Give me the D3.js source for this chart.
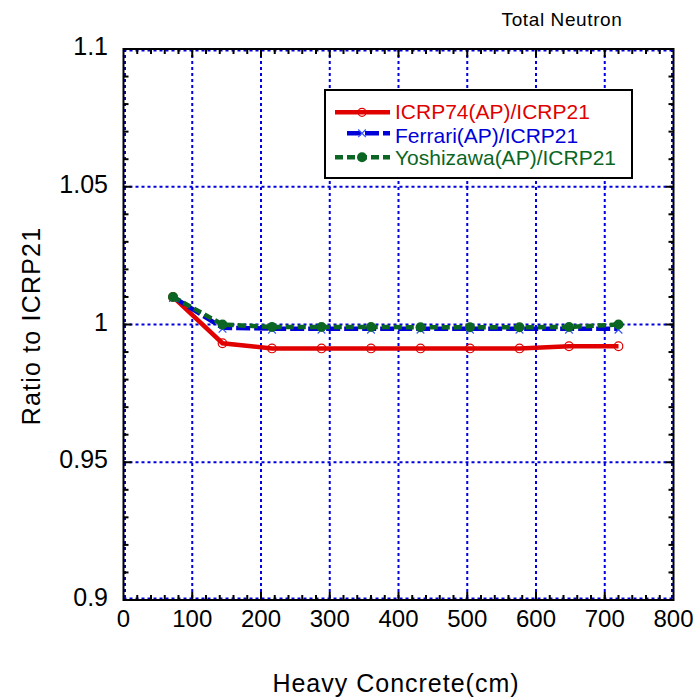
<!DOCTYPE html>
<html>
<head>
<meta charset="utf-8">
<script src="https://cdn.jsdelivr.net/npm/d3@7"></script>
<style>
  html, body { margin: 0; padding: 0; background: #fff; }
  svg { display: block; }
  text { font-family: Arial, "Liberation Sans", Helvetica, sans-serif; }
</style>
</head>
<body>
<svg id="chart" width="699" height="700"></svg>
<script>
// ---- data ----
const depth = [72, 144, 216, 288, 360, 432, 504, 576, 648, 720];
const icrp74 = [1.010, 0.9932, 0.9913, 0.9913, 0.9913, 0.9913, 0.9913, 0.9913, 0.9921, 0.9921];
const ferrari = [1.010, 0.9988, 0.9985, 0.9985, 0.9985, 0.9985, 0.9985, 0.9985, 0.9985, 0.9985];
const yoshizawa = [1.010, 1.000, 0.9991, 0.9991, 0.9991, 0.9990, 0.9990, 0.9990, 0.9991, 1.000];
const seriesNames = ["ICRP74(AP)/ICRP21", "Ferrari(AP)/ICRP21", "Yoshizawa(AP)/ICRP21"];
const xTicks = [0, 100, 200, 300, 400, 500, 600, 700, 800];
const yTicks = [0.9, 0.95, 1, 1.05, 1.1];
const yTickLabels = ["0.9", "0.95", "1", "1.05", "1.1"];

const RED = "#e00000", BLUE = "#0000d8", GREEN = "#0b6623", GRID = "#0000e0";

const svg = d3.select("#chart");
const L = 123.5, R = 673.5, T = 49, B = 600;
const x = d3.scaleLinear().domain([0, 800]).range([L, R]);
const y = d3.scaleLinear().domain([0.9, 1.1]).range([B, T]);

// grid (dotted blue) incl. along frame
const gridG = svg.append("g");
xTicks.forEach(t => {
  gridG.append("line").attr("x1", x(t) + (t === 0 ? 1.5 : t === 800 ? -1.5 : 0)).attr("x2", x(t) + (t === 0 ? 1.5 : t === 800 ? -1.5 : 0))
    .attr("y1", T).attr("y2", B)
    .attr("stroke", GRID).attr("stroke-width", 2).attr("stroke-dasharray", "3,3");
});
yTicks.forEach(t => {
  gridG.append("line").attr("y1", y(t) + (t === 1.1 ? 1.5 : t === 0.9 ? -1.5 : 0)).attr("y2", y(t) + (t === 1.1 ? 1.5 : t === 0.9 ? -1.5 : 0))
    .attr("x1", L).attr("x2", R)
    .attr("stroke", GRID).attr("stroke-width", 2).attr("stroke-dasharray", "3,3");
});

// frame
svg.append("rect").attr("x", L).attr("y", T).attr("width", R - L).attr("height", B - T)
  .attr("fill", "none").attr("stroke", "#000").attr("stroke-width", 2);

// ticks inward
const tickG = svg.append("g").attr("stroke", "#000").attr("stroke-width", 2);
d3.range(0, 801, 20).forEach(v => {
  const major = v % 100 === 0;
  const len = major ? 8 : 5;
  if (v === 0 || v === 800) return;
  tickG.append("line").attr("x1", x(v)).attr("x2", x(v)).attr("y1", B).attr("y2", B - len);
  tickG.append("line").attr("x1", x(v)).attr("x2", x(v)).attr("y1", T).attr("y2", T + len);
});
d3.range(0, 21).forEach(i => {
  const v = 0.9 + i * 0.01;
  const major = i % 5 === 0;
  const len = major ? 8 : 5;
  if (i === 0 || i === 20) return;
  tickG.append("line").attr("x1", L).attr("x2", L + len).attr("y1", y(v)).attr("y2", y(v));
  tickG.append("line").attr("x1", R).attr("x2", R - len).attr("y1", y(v)).attr("y2", y(v));
});

// tick labels
svg.append("g").selectAll("text").data(xTicks).join("text")
  .attr("x", d => x(d)).attr("y", 627).attr("text-anchor", "middle")
  .attr("font-size", 24).text(d => d);
svg.append("g").selectAll("text").data(yTicks).join("text")
  .attr("x", 108).attr("y", d => y(d) + 6).attr("text-anchor", "end")
  .attr("font-size", 25).text((d, i) => yTickLabels[i]);

// axis titles
svg.append("text").attr("x", 396).attr("y", 692).attr("text-anchor", "middle")
  .attr("font-size", 25).attr("letter-spacing", 1).text("Heavy Concrete(cm)");
svg.append("text").attr("transform", "translate(40,326) rotate(-90)").attr("text-anchor", "middle")
  .attr("font-size", 25).attr("letter-spacing", 1.2).text("Ratio to ICRP21");
svg.append("text").attr("x", 562).attr("y", 26).attr("text-anchor", "middle")
  .attr("font-size", 19).attr("letter-spacing", 0.6).text("Total Neutron");

// series
const line = d3.line().x(d => x(d[0])).y(d => y(d[1]));
const pts = arr => depth.map((d, i) => [d, arr[i]]);

const plot = svg.append("g");
plot.append("path").datum(pts(icrp74)).attr("d", line)
  .attr("fill", "none").attr("stroke", RED).attr("stroke-width", 4.5);
plot.append("g").selectAll("circle").data(pts(icrp74)).join("circle")
  .attr("cx", d => x(d[0])).attr("cy", d => y(d[1])).attr("r", 4.3)
  .attr("fill", "none").attr("stroke", RED).attr("stroke-width", 1.2);

plot.append("path").datum(pts(ferrari)).attr("d", line)
  .attr("fill", "none").attr("stroke", BLUE).attr("stroke-width", 4.5).attr("stroke-dasharray", "14,4");
plot.append("g").selectAll("path").data(pts(ferrari)).join("path")
  .attr("d", d3.symbol(d3.symbolX, 40))
  .attr("transform", d => `translate(${x(d[0])},${y(d[1]) + 1})`)
  .attr("fill", "none").attr("stroke", "#3355ff").attr("stroke-width", 1.2);

plot.append("path").datum(pts(yoshizawa)).attr("d", line)
  .attr("fill", "none").attr("stroke", GREEN).attr("stroke-width", 4.5).attr("stroke-dasharray", "8,4");
plot.append("g").selectAll("circle").data(pts(yoshizawa)).join("circle")
  .attr("cx", d => x(d[0])).attr("cy", d => y(d[1])).attr("r", 5)
  .attr("fill", GREEN);

// legend
const lg = svg.append("g");
lg.append("rect").attr("x", 325).attr("y", 90).attr("width", 307).attr("height", 88)
  .attr("fill", "#fff").attr("stroke", "#000").attr("stroke-width", 2);
const legendRows = [
  { name: seriesNames[0], color: RED, dash: null, ly: 112.3, ty: 119.3 },
  { name: seriesNames[1], color: BLUE, dash: "14,4", ly: 133.3, ty: 142.5 },
  { name: seriesNames[2], color: GREEN, dash: "8,4", ly: 157.3, ty: 165 }
];
legendRows.forEach((r, i) => {
  const xs = i === 1 ? 347 : 335;
  lg.append("line").attr("x1", xs).attr("x2", 390).attr("y1", r.ly).attr("y2", r.ly)
    .attr("stroke", r.color).attr("stroke-width", 4.5).attr("stroke-dasharray", r.dash);
  if (i === 0) lg.append("circle").attr("cx", 362).attr("cy", r.ly).attr("r", 4).attr("fill", "none").attr("stroke", RED).attr("stroke-width", 1.2);
  if (i === 1) lg.append("path").attr("d", d3.symbol(d3.symbolX, 40)).attr("transform", `translate(362,${r.ly})`).attr("fill", "none").attr("stroke", "#3355ff").attr("stroke-width", 1.2);
  if (i === 2) lg.append("circle").attr("cx", 362).attr("cy", r.ly).attr("r", 5).attr("fill", GREEN);
  lg.append("text").attr("x", 395).attr("y", r.ty).attr("font-size", 21).attr("fill", r.color).text(r.name);
});
</script>
</body>
</html>
